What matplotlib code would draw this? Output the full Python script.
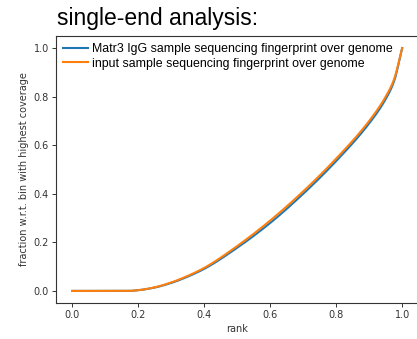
import matplotlib
matplotlib.use("Agg")
import matplotlib.pyplot as plt
import numpy as np

rank = [0.0, 0.17, 0.2, 0.25, 0.3, 0.35, 0.4, 0.5, 0.6, 0.7, 0.8, 0.9, 0.95, 0.975, 1.0]
input_vals = [0.0, 0.0, 0.003, 0.015, 0.035, 0.062, 0.095, 0.185, 0.29, 0.41, 0.545, 0.70, 0.80, 0.87, 1.0]
matr3_vals = [0.0, 0.0, 0.003, 0.014, 0.033, 0.059, 0.091, 0.178, 0.28, 0.40, 0.535, 0.69, 0.79, 0.862, 1.0]

labels = ["Matr3 IgG sample sequencing fingerprint over genome",
          "input sample sequencing fingerprint over genome"]
title = "single-end analysis:"


def pchip(x, y, xs):
    x = np.asarray(x, float)
    y = np.asarray(y, float)
    h = np.diff(x)
    d = np.diff(y) / h
    n = len(x)
    m = np.zeros(n)
    for k in range(1, n - 1):
        if d[k - 1] * d[k] <= 0:
            m[k] = 0.0
        else:
            w1 = 2 * h[k] + h[k - 1]
            w2 = h[k] + 2 * h[k - 1]
            m[k] = (w1 + w2) / (w1 / d[k - 1] + w2 / d[k])
    m[0] = d[0]
    m[-1] = d[-1]
    idx = np.clip(np.searchsorted(x, xs) - 1, 0, n - 2)
    t = (xs - x[idx]) / h[idx]
    h00 = 2 * t**3 - 3 * t**2 + 1
    h10 = t**3 - 2 * t**2 + t
    h01 = -2 * t**3 + 3 * t**2
    h11 = t**3 - t**2
    return h00 * y[idx] + h10 * h[idx] * m[idx] + h01 * y[idx + 1] + h11 * h[idx] * m[idx + 1]


fig = plt.figure(figsize=(4.17, 3.39), dpi=100)
ax = fig.add_axes([0.134, 0.106, 0.87, 0.788])

xs = np.linspace(0, 1, 600)
ax.plot(xs, pchip(rank, matr3_vals, xs), color="#1f77b4", lw=1.5, label=labels[0])
ax.plot(xs, pchip(rank, input_vals, xs), color="#ff7f0e", lw=1.5, label=labels[1])

ax.set_xlim(-0.05, 1.05)
ax.set_ylim(-0.05, 1.05)
ax.set_xticks([0.0, 0.2, 0.4, 0.6, 0.8, 1.0])
ax.set_yticks([0.0, 0.2, 0.4, 0.6, 0.8, 1.0])
ax.tick_params(labelsize=7, length=3, width=0.7, colors="#333333", pad=2)
for s in ax.spines.values():
    s.set_linewidth(0.8)
    s.set_color("#333333")
ax.set_xlabel("rank", fontsize=7, color="#333333", labelpad=3)
ax.set_ylabel("fraction w.r.t. bin with highest coverage", fontsize=7, color="#333333", labelpad=3)

leg = ax.legend(loc="upper left", frameon=False, prop={"family": "Liberation Sans", "size": 8.9},
                handlelength=2.0, borderaxespad=0.2, labelspacing=0.2, handletextpad=0.35)

fig.text(0.137, 0.945, title, fontsize=16.5, family="Liberation Sans", va="center", ha="left")

fig.savefig("out.png", dpi=100)
